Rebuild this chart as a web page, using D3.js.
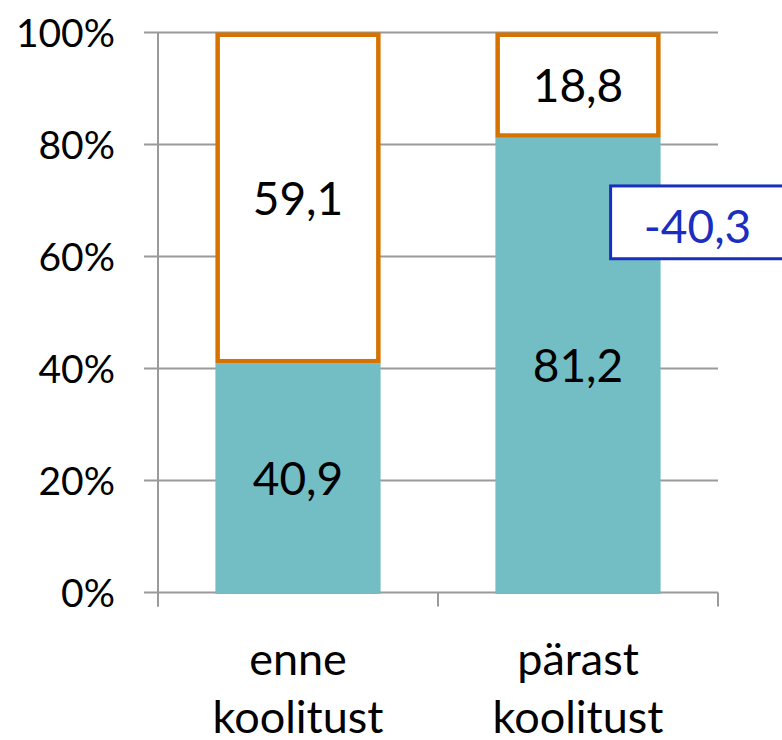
<!DOCTYPE html>
<html><head><meta charset="utf-8">
<script src="https://cdn.jsdelivr.net/npm/d3@7"></script>
<style>html,body{margin:0;padding:0;background:#fff;}svg{display:block;font-family:Lato,"Open Sans",sans-serif;}</style>
</head><body>
<svg id="chart" width="782" height="740"></svg>
<script>
const categories = ["enne koolitust", "pärast koolitust"];
const lowerValues = [40.9, 81.2];
const upperValues = [59.1, 18.8];
const lowerLabels = ["40,9", "81,2"];
const upperLabels = ["59,1", "18,8"];
const yTicks = [0, 20, 40, 60, 80, 100];
const changeLabel = "-40,3";

(function () {
const svg = d3.select("#chart");
const pLeft = 158, pRight = 718, pTop = 32.5, pBottom = 592.5;
const x = d3.scaleBand().domain(categories).range([pLeft, pRight]).paddingInner(0.41).paddingOuter(0.205);
const y = d3.scaleLinear().domain([0, 100]).range([pBottom, pTop]);
const grid = "#9a9a9a";

// gridlines
svg.append("g").selectAll("line").data(yTicks).join("line")
  .attr("x1", pLeft - 14).attr("x2", pRight).attr("y1", d => y(d)).attr("y2", d => y(d))
  .attr("stroke", grid).attr("stroke-width", 2);
// y axis line
svg.append("line").attr("x1", pLeft).attr("x2", pLeft).attr("y1", pTop).attr("y2", pBottom + 14)
  .attr("stroke", grid).attr("stroke-width", 2);
// category tick marks
const catEdges = [pLeft, (pLeft + pRight) / 2, pRight];
svg.append("g").selectAll("line").data(catEdges).join("line")
  .attr("x1", d => d).attr("x2", d => d).attr("y1", pBottom).attr("y2", pBottom + 14)
  .attr("stroke", grid).attr("stroke-width", 2);

// y tick labels
svg.append("g").selectAll("text").data(yTicks).join("text")
  .attr("x", 115).attr("y", d => y(d)).attr("dy", "0.36em")
  .attr("text-anchor", "end").attr("font-size", 39).attr("fill", "#000")
  .text(d => d + "%");

const sw = 4.5;
// lower teal bars
svg.append("g").selectAll("rect").data(categories).join("rect")
  .attr("x", d => x(d)).attr("width", x.bandwidth())
  .attr("y", (d, i) => y(lowerValues[i])).attr("height", (d, i) => y(0) - y(lowerValues[i]) + 1.5)
  .attr("fill", "#73BEC4");
// upper outlined bars
svg.append("g").selectAll("rect").data(categories).join("rect")
  .attr("x", d => x(d) + sw / 2).attr("width", x.bandwidth() - sw)
  .attr("y", (d, i) => y(lowerValues[i] + upperValues[i]) + sw / 2)
  .attr("height", (d, i) => y(lowerValues[i]) - y(lowerValues[i] + upperValues[i]) - sw)
  .attr("fill", "#fff").attr("stroke", "#D67300").attr("stroke-width", sw);

// labels
svg.append("g").selectAll("text").data(categories).join("text")
  .attr("x", d => x(d) + x.bandwidth() / 2)
  .attr("y", (d, i) => y(lowerValues[i] / 2)).attr("dy", "0.36em")
  .attr("text-anchor", "middle").attr("font-size", 46).text((d, i) => lowerLabels[i]);
svg.append("g").selectAll("text").data(categories).join("text")
  .attr("x", d => x(d) + x.bandwidth() / 2)
  .attr("y", (d, i) => y(lowerValues[i] + upperValues[i] / 2)).attr("dy", "0.36em")
  .attr("text-anchor", "middle").attr("font-size", 46).text((d, i) => upperLabels[i]);

// category labels
svg.append("g").selectAll("text").data(categories).join("text")
  .attr("x", d => x(d) + x.bandwidth() / 2).attr("y", 675)
  .attr("text-anchor", "middle").attr("font-size", 45)
  .each(function(d) {
    const parts = d.split(" ");
    d3.select(this).selectAll("tspan").data(parts).join("tspan")
      .attr("x", x(d) + x.bandwidth() / 2).attr("dy", (p, j) => j ? 58 : 0).text(p => p);
  });

// change annotation
const bx = x(categories[1]) + x.bandwidth() - 50;
svg.append("rect").attr("x", bx).attr("y", y(72.6)).attr("width", 200).attr("height", y(59.6) - y(72.6))
  .attr("fill", "#fff").attr("stroke", "#1A2EC0").attr("stroke-width", 3);
svg.append("text").attr("x", 697.5).attr("y", y(65.4)).attr("dy", "0.36em")
  .attr("text-anchor", "middle").attr("font-size", 46).attr("fill", "#1A2EC0").text(changeLabel);
})();
</script>
</body></html>
